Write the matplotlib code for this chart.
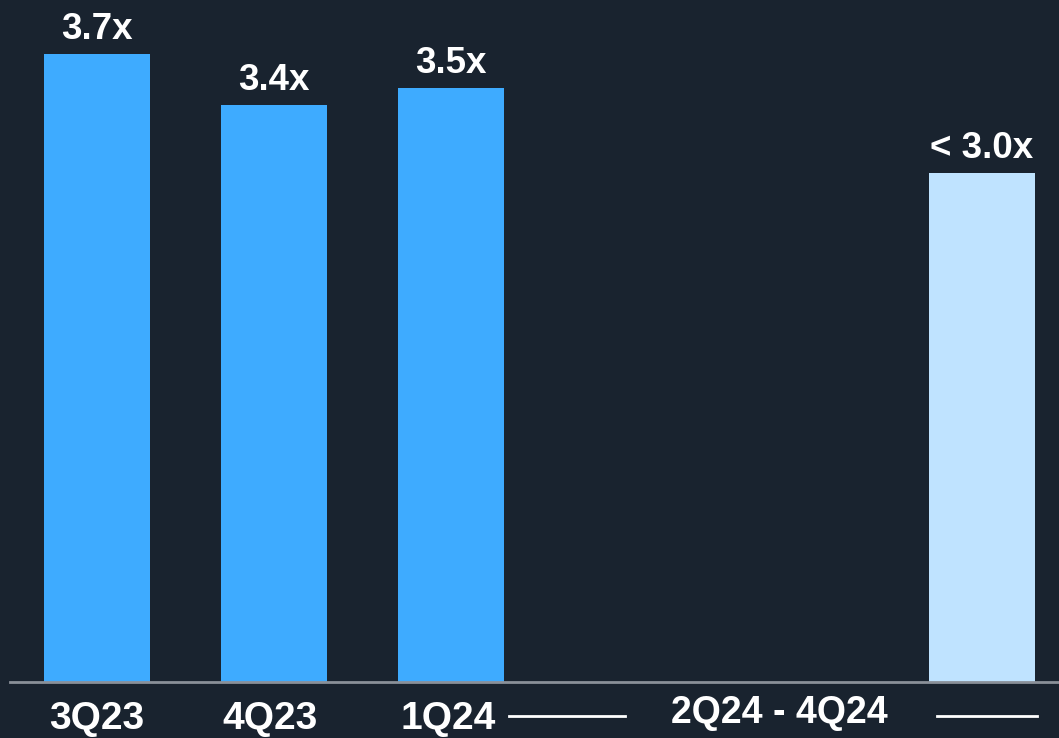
import numpy as np
import matplotlib.pyplot as plt
from matplotlib.transforms import blended_transform_factory

plt.rcParams['font.family'] = ['Liberation Sans', 'DejaVu Sans']

quarters = ['3Q23', '4Q23', '1Q24', '2Q24 - 4Q24']
leverage = [3.7, 3.4, 3.5, 3.0]
value_labels = ['3.7x', '3.4x', '3.5x', '< 3.0x']

bg = '#19232f'
blue = '#3eabff'
light = '#bfe3ff'

xpos = np.array([0, 1, 2, 5])
colors = [blue, blue, blue, light]

fig = plt.figure(figsize=(10.59, 7.38), dpi=100, facecolor=bg)
ax = fig.add_axes([0, 0.0759, 1, 0.9241])
ax.set_facecolor(bg)

ax.bar(xpos, leverage, width=0.6, color=colors, linewidth=0)

for x, v, t in zip(xpos, leverage, value_labels):
    ax.annotate(t, (x, v), xytext=(0, 5), textcoords='offset points',
                ha='center', va='bottom', color='white', fontsize=26.5, fontweight='bold')

ax.set_xlim(-0.548, 5.435)
ax.set_ylim(0, 4.02)
for s in ['top', 'right', 'left']:
    ax.spines[s].set_visible(False)
ax.spines['bottom'].set_color('#8a9099')
ax.spines['bottom'].set_linewidth(2)
ax.spines['bottom'].set_bounds(-0.494, 5.435)
ax.set_yticks([])
ax.set_xticks([])

trans = blended_transform_factory(ax.transData, ax.transAxes)
label_x = [0, 0.977, 1.986, 3.856]
for i, (x, q) in enumerate(zip(label_x, quarters)):
    y = -0.046 if i == 3 else -0.055
    fs = 27 if i == 3 else 28
    ax.text(x, y, q, transform=trans, ha='center', va='center', color='white',
            fontsize=fs, fontweight='bold', clip_on=False)

# bracket lines around the forecast period label
ax.plot([2.328, 2.983], [-0.050, -0.050], transform=trans, color='white', lw=2, clip_on=False)
ax.plot([4.746, 5.311], [-0.050, -0.050], transform=trans, color='white', lw=2, clip_on=False)

fig.savefig('out.png', dpi=100, facecolor=bg)
